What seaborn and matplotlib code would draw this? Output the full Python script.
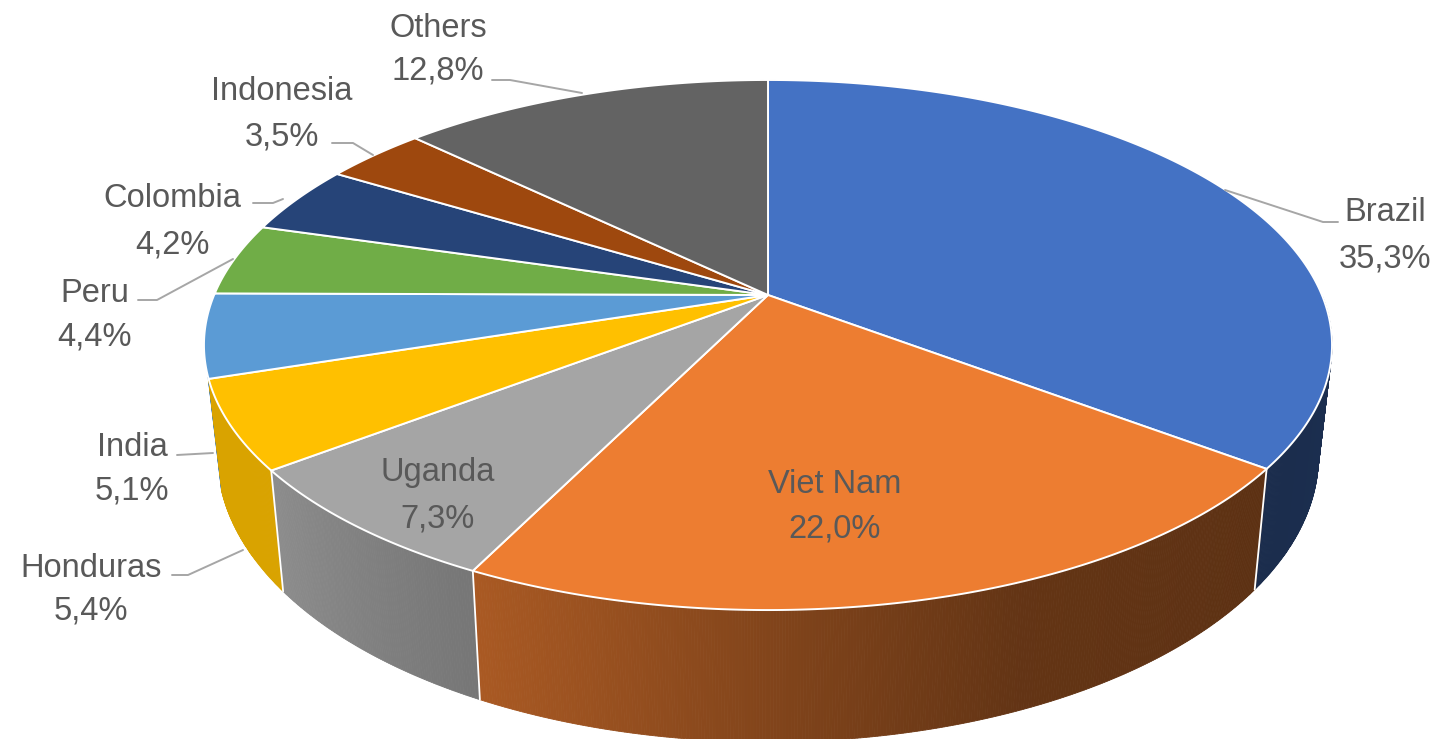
"""3D pie of coffee production share by country (Excel look)."""

import numpy as np
import matplotlib

matplotlib.use("Agg")
import matplotlib.pyplot as plt
import seaborn as sns

countries = ["Brazil", "Viet Nam", "Uganda", "Honduras", "India",
             "Peru", "Colombia", "Indonesia", "Others"]
shares = [35.3, 22.0, 7.3, 5.4, 5.1, 4.4, 4.2, 3.5, 12.8]
colors = ["#4472C4", "#ED7D31", "#A5A5A5", "#FFC000", "#5B9BD5",
          "#70AD47", "#264478", "#9E480E", "#636363"]

# label layout in pixels: x centre, baseline of name, baseline of percent
label_pos = {
    "Brazil": (1385, 221, 267),
    "Viet Nam": (835, 493, 537),
    "Uganda": (438, 481, 527),
    "Honduras": (91, 577, 620),
    "India": (132, 456, 500),
    "Peru": (95, 302, 345),
    "Colombia": (172, 207, 253),
    "Indonesia": (282, 100, 145),
    "Others": (438, 37, 80),
}
leaders = {
    "Brazil": [(1338, 222), (1323, 222), (1225, 190)],
    "Others": [(492, 80), (510, 80), (582, 93)],
    "Indonesia": [(332, 143), (353, 143), (373, 155)],
    "Colombia": [(253, 203), (273, 203), (283, 199)],
    "Peru": [(138, 300), (157, 300), (233, 259)],
    "India": [(177, 455), (213, 453)],
    "Honduras": [(172, 575), (188, 575), (243, 550)],
}

# geometry of the tilted disc, perspective projected
CX, CY = 768, 295
A, B, K = 553.9, 255.6, -0.1887
DEPTH = 107
SHRINK = 0.976
WALL_FROM, WALL_TO = 0, 162.5  # visible part of the side wall, degrees


def top_xy(phi):
    u, v = np.cos(phi), np.sin(phi)
    d = 1 + K * v
    return CX + A * u / d, CY + B * v / d


def bottom_xy(phi):
    x, y = top_xy(phi)
    d = 1 + K * np.sin(phi)
    return CX + (x - CX) * SHRINK, y + DEPTH / d


def shade(deg):
    return np.interp(deg, [0, 11, 37, 68, 87, 105, 116, 142, 169, 180],
                     [0.41, 0.41, 0.39, 0.42, 0.53, 0.65, 0.715, 0.85, 0.85, 0.85])


sns.set_theme(style="white")
plt.rcParams["font.family"] = ["Liberation Sans", "DejaVu Sans"]

fig = plt.figure(figsize=(14.4, 7.39), dpi=100)
ax = fig.add_axes([0, 0, 1, 1])
ax.set_xlim(0, 1440)
ax.set_ylim(739, 0)
ax.axis("off")

total = sum(shares)
cum = np.concatenate([[0], np.cumsum(shares)])
edges_deg = -90 + 360 * cum / total

# side wall, drawn in thin strips from the silhouette towards the front
strip_deg = np.linspace(WALL_FROM, WALL_TO, 651)
mids = (strip_deg[:-1] + strip_deg[1:]) / 2
order = np.argsort(-np.abs(mids - 90))
for i in order:
    a0, a1 = np.deg2rad(strip_deg[i]), np.deg2rad(strip_deg[i + 1])
    idx = np.searchsorted(edges_deg, mids[i]) - 1
    rgb = np.array(matplotlib.colors.to_rgb(colors[idx])) * shade(mids[i])
    tx0, ty0 = top_xy(a0)
    tx1, ty1 = top_xy(a1)
    bx1, by1 = bottom_xy(a1)
    bx0, by0 = bottom_xy(a0)
    ax.fill([tx0, tx1, bx1, bx0], [ty0, ty1, by1, by0],
            facecolor=rgb, edgecolor=rgb, lw=0.6, zorder=1)

for e in edges_deg:
    if 11 < e < 160:
        p = np.deg2rad(e)
        tx, ty = top_xy(p)
        bx, by = bottom_xy(p)
        ax.plot([tx, bx], [ty, by], color="white", lw=1.3, zorder=2)

# top face
for i, c in enumerate(colors):
    phis = np.deg2rad(np.linspace(edges_deg[i], edges_deg[i + 1], 200))
    xs, ys = top_xy(phis)
    ax.fill(np.r_[CX, xs], np.r_[CY, ys], facecolor=c,
            edgecolor="white", lw=1.4, joinstyle="round", zorder=3)

# labels
for name, val in zip(countries, shares):
    x, y1, y2 = label_pos[name]
    pct = f"{val:.1f}%".replace(".", ",")
    for txt, y in ((name, y1), (pct, y2)):
        ax.text(x, y, txt, ha="center", va="baseline", fontsize=23.5,
                color="#595959", zorder=5)

for name, pts in leaders.items():
    xs, ys = zip(*pts)
    ax.plot(xs, ys, color="#A6A6A6", lw=1.4, zorder=4)

fig.savefig("out.png", dpi=100)
plt.close(fig)
